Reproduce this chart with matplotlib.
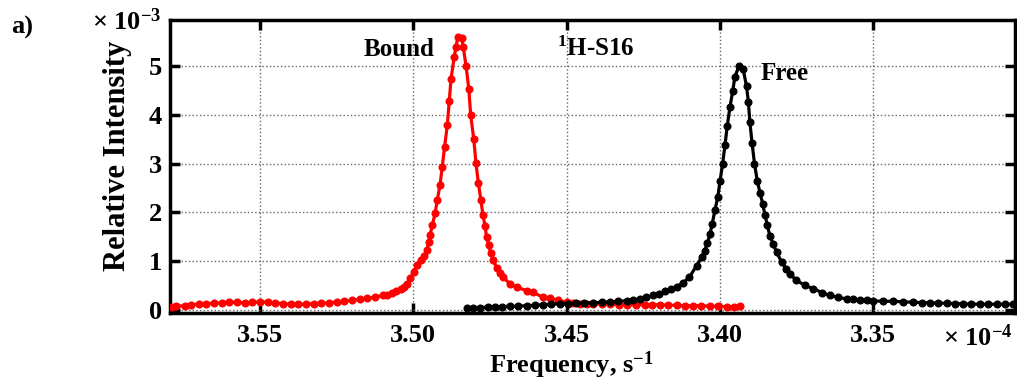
import matplotlib
matplotlib.use("Agg")
import matplotlib.pyplot as plt

# -----------------------------
# Data (x in units of 1e-4 s^-1, y in units of 1e-3)
# -----------------------------
bound_freq = [3.5787, 3.5775, 3.5745, 3.5725, 3.5700, 3.5675, 3.5650, 3.5625,
              3.5600, 3.5575, 3.5550, 3.5525, 3.5500, 3.5475, 3.5450, 3.5425,
              3.5400, 3.5375, 3.5350, 3.5325, 3.5300, 3.5275, 3.5250, 3.5225,
              3.5200, 3.5175, 3.5150, 3.5125, 3.5100, 3.5085, 3.5070, 3.5055,
              3.5040, 3.5030, 3.5020, 3.5010, 3.4998, 3.4987, 3.4975, 3.4964,
              3.4956, 3.4950, 3.4945, 3.4938, 3.4929, 3.4922, 3.4913, 3.4906,
              3.4898, 3.4889, 3.4883, 3.4877, 3.4867, 3.4861, 3.4855, 3.4842,
              3.4837, 3.4828, 3.4819, 3.4813, 3.4803, 3.4796, 3.4788, 3.4780,
              3.4773, 3.4766, 3.4761, 3.4754, 3.4748, 3.4739, 3.4728, 3.4717,
              3.4706, 3.4685, 3.4663, 3.4630, 3.4610, 3.4577, 3.4554, 3.4527,
              3.4500, 3.4478, 3.4456, 3.4435, 3.4414, 3.4386, 3.4358, 3.4330,
              3.4303, 3.4274, 3.4244, 3.4220, 3.4195, 3.4168, 3.4140, 3.4114,
              3.4088, 3.4060, 3.4032, 3.4005, 3.3977, 3.3955, 3.3934]
bound_int = [0.06, 0.07, 0.08, 0.10, 0.11, 0.12, 0.13, 0.14,
             0.15, 0.15, 0.14, 0.15, 0.16, 0.15, 0.14, 0.12,
             0.11, 0.11, 0.11, 0.12, 0.13, 0.14, 0.16, 0.17,
             0.19, 0.21, 0.23, 0.26, 0.29, 0.31, 0.34, 0.38,
             0.42, 0.46, 0.52, 0.64, 0.78, 0.92, 1.02, 1.11,
             1.23, 1.38, 1.54, 1.74, 1.98, 2.25, 2.56, 2.92,
             3.35, 3.80, 4.28, 4.74, 5.18, 5.39, 5.60, 5.58,
             5.39, 5.00, 4.53, 4.00, 3.51, 3.02, 2.61, 2.26,
             1.95, 1.71, 1.49, 1.32, 1.17, 1.01, 0.85, 0.76,
             0.66, 0.53, 0.46, 0.39, 0.36, 0.25, 0.23, 0.19,
             0.15, 0.13, 0.12, 0.12, 0.12, 0.11, 0.11, 0.10,
             0.10, 0.10, 0.10, 0.10, 0.10, 0.09, 0.09, 0.08,
             0.08, 0.08, 0.07, 0.07, 0.06, 0.06, 0.07]

free_freq = [3.4826, 3.4804, 3.4782, 3.4758, 3.4734, 3.4710, 3.4685, 3.4658,
             3.4630, 3.4604, 3.4577, 3.4550, 3.4522, 3.4496, 3.4469, 3.4442,
             3.4414, 3.4386, 3.4358, 3.4331, 3.4304, 3.4282, 3.4261, 3.4240,
             3.4218, 3.4198, 3.4179, 3.4160, 3.4141, 3.4120, 3.4100, 3.4076,
             3.4059, 3.4050, 3.4041, 3.4032, 3.4025, 3.4016, 3.4007, 3.3999,
             3.3991, 3.3983, 3.3976, 3.3967, 3.3958, 3.3951, 3.3938, 3.3924,
             3.3913, 3.3907, 3.3902, 3.3895, 3.3887, 3.3878, 3.3869, 3.3860,
             3.3853, 3.3845, 3.3837, 3.3826, 3.3815, 3.3798, 3.3784, 3.3771,
             3.3750, 3.3723, 3.3695, 3.3667, 3.3641, 3.3614, 3.3586, 3.3564,
             3.3542, 3.3521, 3.3500, 3.3468, 3.3435, 3.3402, 3.3369, 3.3342,
             3.3315, 3.3288, 3.3260, 3.3234, 3.3207, 3.3180, 3.3152, 3.3124,
             3.3096, 3.3070, 3.3044]
free_int = [0.03, 0.04, 0.04, 0.05, 0.06, 0.06, 0.07, 0.07,
            0.08, 0.09, 0.10, 0.11, 0.12, 0.12, 0.13, 0.13,
            0.14, 0.15, 0.16, 0.17, 0.18, 0.20, 0.22, 0.25,
            0.29, 0.33, 0.38, 0.42, 0.47, 0.55, 0.66, 0.90,
            1.08, 1.21, 1.36, 1.55, 1.76, 2.04, 2.31, 2.65,
            3.00, 3.39, 3.77, 4.16, 4.49, 4.78, 5.00, 4.94,
            4.59, 4.27, 3.85, 3.43, 3.00, 2.65, 2.40, 2.17,
            1.95, 1.73, 1.52, 1.35, 1.18, 0.97, 0.84, 0.73,
            0.60, 0.50, 0.43, 0.35, 0.29, 0.25, 0.22, 0.21,
            0.20, 0.19, 0.18, 0.17, 0.17, 0.16, 0.15, 0.145,
            0.14, 0.135, 0.13, 0.125, 0.12, 0.115, 0.11, 0.11,
            0.11, 0.11, 0.11]

x_ticks = [3.35, 3.40, 3.45, 3.50, 3.55]
x_labels = ['3.35', '3.40', '3.45', '3.50', '3.55']
y_ticks = [0, 1, 2, 3, 4, 5]
y_labels = ['0', '1', '2', '3', '4', '5']

# -----------------------------
# Style
# -----------------------------
plt.rcParams['font.family'] = ['Liberation Serif', 'DejaVu Serif']
plt.rcParams['font.weight'] = 'bold'
plt.rcParams['mathtext.fontset'] = 'custom'
plt.rcParams['mathtext.rm'] = 'Liberation Serif:bold'
plt.rcParams['mathtext.it'] = 'Liberation Serif:bold'
plt.rcParams['mathtext.bf'] = 'Liberation Serif:bold'

W, H = 1017, 381


def px(x, y):
    return x / W, 1 - y / H


fig = plt.figure(figsize=(W / 100, H / 100), dpi=100)
ax = fig.add_axes([170 / W, 1 - 313 / H, (1015 - 170) / W, (313 - 20) / H])

ax.plot(bound_freq, bound_int, '-o', color='red', lw=2.3, ms=4.8, mec='red', zorder=3)
ax.plot(free_freq, free_int, '-o', color='black', lw=2.3, ms=4.8, mec='black', zorder=4)

ax.set_xlim(3.5794, 3.3037)
ax.set_ylim(-0.07, 5.95)
ax.set_xticks(x_ticks)
ax.set_xticklabels(x_labels)
ax.set_yticks(y_ticks)
ax.set_yticklabels(y_labels)

ax.grid(True, linestyle=':', color='#666666', lw=1.0)
ax.tick_params(direction='in', length=7, width=2.5, top=True, right=True,
               labelsize=19, color='black')
ax.tick_params(axis='x', pad=8)
ax.tick_params(axis='y', pad=6)
for s in ax.spines.values():
    s.set_linewidth(2.5)

# -----------------------------
# Text
# -----------------------------
fig.text(*px(22, 27), 'a)', fontsize=19, ha='center', va='center')
fig.text(*px(127, 22), r'× 10$^{-3}$', fontsize=19, ha='center', va='center')
fig.text(*px(978, 338), r'× 10$^{-4}$', fontsize=19, ha='center', va='center')
fig.text(*px(571, 365), r'Frequency, s$^{-1}$', fontsize=19, ha='center', va='center')
fig.text(*px(118, 156), 'Relative Intensity', fontsize=22, ha='center', va='center',
         rotation=90)
fig.text(*px(399, 49), 'Bound', fontsize=18, ha='center', va='center')
fig.text(*px(596, 49), r'$^{1}$H-S16', fontsize=18, ha='center', va='center')
fig.text(*px(785, 73), 'Free', fontsize=18, ha='center', va='center')

fig.savefig('out.png', dpi=100)
